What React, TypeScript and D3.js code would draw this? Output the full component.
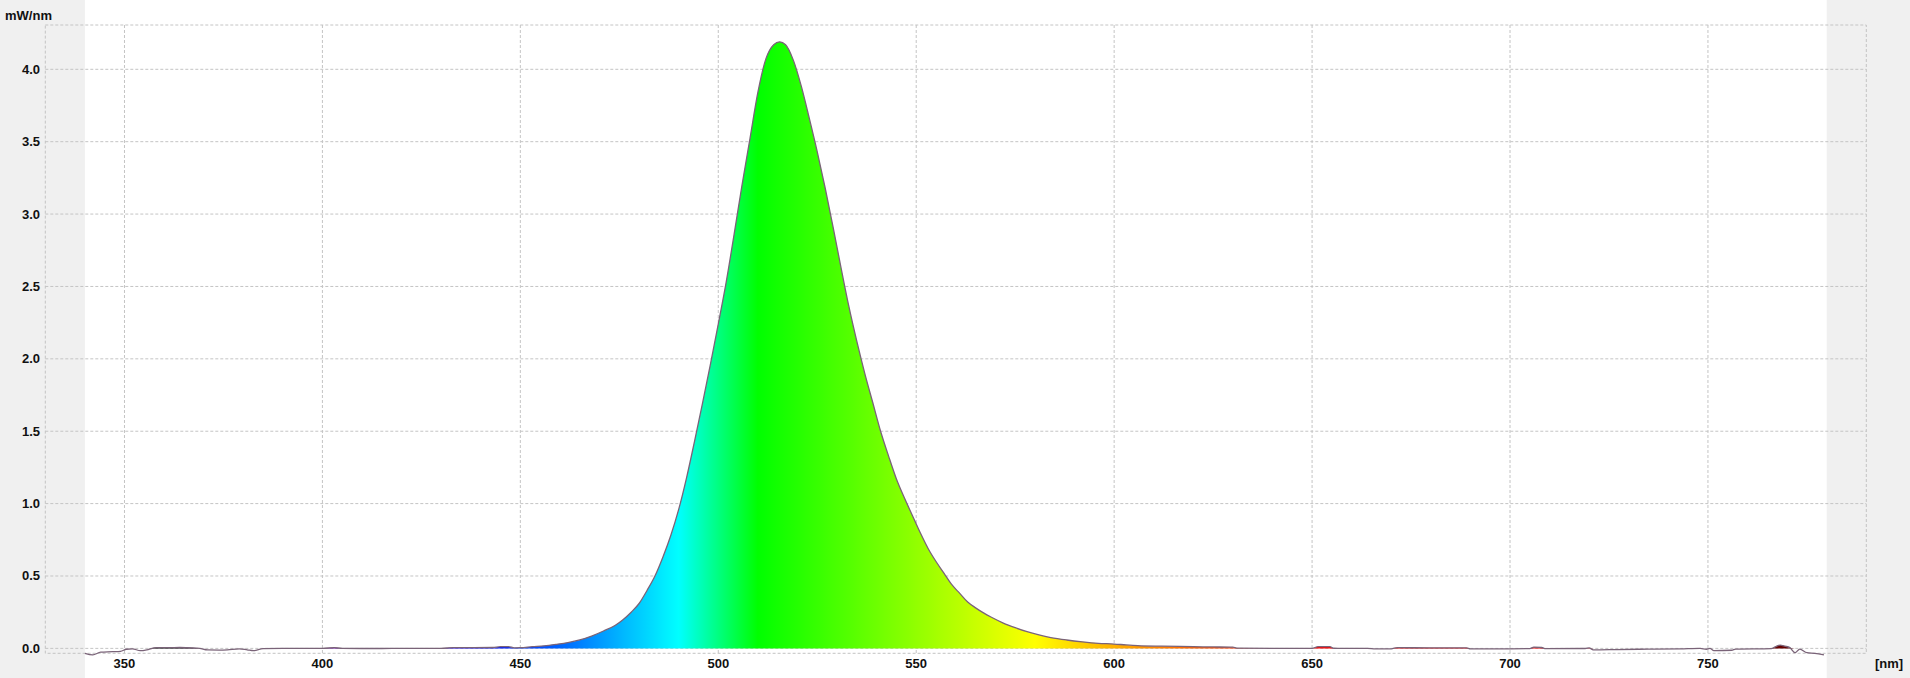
import React from "react";
import * as d3 from "d3";

// ---- data ----
const wavelengths: number[] = [
  340, 342, 344, 347, 349, 350.5, 352, 354, 356, 358, 361, 364, 367, 369, 371, 374, 376, 379, 381, 382.6,
  385, 390, 395, 400, 403, 405, 410, 415, 420, 425, 430, 433, 438, 443, 445, 447, 448.5, 450, 453, 456,
  459, 462, 465, 468, 471, 474, 476, 478, 480, 482, 484, 486, 488, 490, 492, 494, 496, 498, 500, 502,
  504, 506, 508, 510, 512, 514, 515.5, 517, 519, 521, 523, 525, 527, 529, 531, 533, 535, 537, 539, 541,
  543, 545, 547, 549, 551, 553, 555, 557, 559, 561, 563, 565, 567, 569, 572, 575, 578, 581, 584, 588,
  592, 596, 600, 603, 606, 612, 620, 625, 630, 631, 640, 650, 651.5, 654.5, 655.5, 660, 664, 666, 670,
  671.5, 680, 689, 690, 700, 705, 706, 708, 709, 719, 720, 721, 727, 735, 743, 748, 749.6, 750.5, 751.5,
  756, 757, 766, 767, 768.2, 769.5, 770.7, 772, 773.2, 775, 777, 779.3,
];
const power: number[] = [
  -0.034, -0.045, -0.026, -0.023, -0.02, -0.006, -0.003, -0.016, -0.008, 0.005, 0.005, 0.006, 0.004, 0.0, -0.011, -0.012, -0.01, -0.003, -0.01, -0.016,
  -0.002, 0.0, 0.0, 0.0, 0.005, 0.0, -0.001, -0.001, 0.0, 0.0, 0.0, 0.005, 0.005, 0.006, 0.012, 0.012, 0.004, 0.005, 0.012, 0.018,
  0.028, 0.04, 0.058, 0.085, 0.12, 0.16, 0.2, 0.25, 0.31, 0.4, 0.5, 0.63, 0.78, 0.96, 1.18, 1.43, 1.69, 1.96, 2.24, 2.53,
  2.86, 3.2, 3.52, 3.84, 4.07, 4.17, 4.19, 4.17, 4.06, 3.88, 3.66, 3.43, 3.18, 2.91, 2.63, 2.36, 2.12, 1.9, 1.7, 1.5,
  1.33, 1.17, 1.04, 0.92, 0.8, 0.69, 0.6, 0.52, 0.44, 0.38, 0.32, 0.28, 0.245, 0.215, 0.175, 0.143, 0.115, 0.093, 0.075, 0.058,
  0.045, 0.035, 0.03, 0.024, 0.019, 0.015, 0.012, 0.01, 0.008, 0.002, 0.0, 0.0, 0.012, 0.012, 0.001, 0.0, 0.0, -0.004, -0.003,
  0.005, 0.004, 0.004, -0.003, -0.003, -0.002, 0.008, 0.006, -0.002, -0.001, 0.003, -0.01, -0.008, -0.005, -0.003, 0.0, -0.006, 0.0, -0.015,
  -0.013, -0.005, -0.002, 0.01, 0.023, 0.015, 0.005, -0.03, -0.005, -0.03, -0.034, -0.045,
];
const xTicks: number[] = [350, 400, 450, 500, 550, 600, 650, 700, 750];
const yTicks: number[] = [0, 0.5, 1.0, 1.5, 2.0, 2.5, 3.0, 3.5, 4.0];
const xDomain: [number, number] = [330, 790];
const yDomain: [number, number] = [-0.034, 4.306];
const measuredRange: [number, number] = [340, 780];
const yUnit = "mW/nm";
const xUnit = "[nm]";

function wavelengthToColor(w: number): string {
  let r = 0, g = 0, b = 0;
  if (w < 440) { r = -(w - 440) / 60; g = 0; b = 1; }
  else if (w < 490) { r = 0; g = (w - 440) / 50; b = 1; }
  else if (w < 510) { r = 0; g = 1; b = -(w - 510) / 20; }
  else if (w < 580) { r = (w - 510) / 70; g = 1; b = 0; }
  else if (w < 645) { r = 1; g = -(w - 645) / 65; b = 0; }
  else { r = 1; g = 0; b = 0; }
  let f = 1;
  if (w < 420) f = 0.3 + (0.7 * (w - 380)) / 40;
  else if (w > 700) f = 0.3 + (0.7 * (780 - w)) / 80;
  const c = (v: number) => Math.round(255 * Math.max(0, Math.min(1, v * f)));
  return `rgb(${c(r)},${c(g)},${c(b)})`;
}

export default function App() {
  const W = 1910, H = 678;
  const x = d3.scaleLinear().domain(xDomain).range([45.3, 1866.3]);
  const y = d3.scaleLinear().domain(yDomain).range([653.3, 25]);
  const data = wavelengths.map((w, i) => ({ w, v: power[i] }));

  const line = d3.line<{ w: number; v: number }>()
    .x((d) => x(d.w))
    .y((d) => y(d.v))
    .curve(d3.curveMonotoneX);
  const area = d3.area<{ w: number; v: number }>()
    .x((d) => x(d.w))
    .y0(y(0))
    .y1((d) => y(Math.max(0, d.v)))
    .curve(d3.curveMonotoneX);

  const stopsW = d3.range(measuredRange[0], measuredRange[1] + 0.1, 2);
  const span = measuredRange[1] - measuredRange[0];

  const font = "'Liberation Sans', Arial, sans-serif";
  const grid = "#c4c4c4";
  const dash = "3,2";
  const [x0, x1] = x.range();
  const [yb, yt] = y.range();

  return (
    <svg width={W} height={H} style={{ position: "absolute", left: 0, top: 0, display: "block" }}>
      <defs>
        <linearGradient id="spec" gradientUnits="userSpaceOnUse" x1={x(measuredRange[0])} x2={x(measuredRange[1])} y1={0} y2={0}>
          {stopsW.map((w) => (
            <stop key={w} offset={(w - measuredRange[0]) / span} stopColor={wavelengthToColor(w)} />
          ))}
        </linearGradient>
      </defs>
      <rect x={0} y={0} width={W} height={H} fill="#f0f0f0" />
      <rect x={x(measuredRange[0])} y={0} width={x(measuredRange[1]) - x(measuredRange[0])} height={H} fill="#ffffff" />
      {/* grid */}
      {xTicks.map((t) => (
        <line key={"gx" + t} x1={x(t)} x2={x(t)} y1={yt} y2={yb} stroke={grid} strokeDasharray={dash} />
      ))}
      {yTicks.map((t) => (
        <line key={"gy" + t} x1={x0} x2={x1} y1={y(t)} y2={y(t)} stroke={grid} strokeDasharray={dash} />
      ))}
      <rect x={x0} y={yt} width={x1 - x0} height={yb - yt} fill="none" stroke={grid} strokeDasharray={dash} />
      {/* spectrum */}
      <path d={area(data) || ""} fill="url(#spec)" />
      <path d={line(data) || ""} fill="none" stroke="#7a6378" strokeWidth={1.3} />
      {/* labels */}
      {yTicks.map((t) => (
        <text key={"ty" + t} x={40} y={y(t) + 4.5} textAnchor="end" fontFamily={font} fontWeight="bold" fontSize={13} fill="#111">
          {t.toFixed(1)}
        </text>
      ))}
      {xTicks.map((t) => (
        <text key={"tx" + t} x={x(t)} y={668} textAnchor="middle" fontFamily={font} fontWeight="bold" fontSize={13} fill="#111">
          {t}
        </text>
      ))}
      <text x={5} y={20} fontFamily={font} fontWeight="bold" fontSize={13} fill="#111">{yUnit}</text>
      <text x={1875} y={668} fontFamily={font} fontWeight="bold" fontSize={13} fill="#111">{xUnit}</text>
    </svg>
  );
}
